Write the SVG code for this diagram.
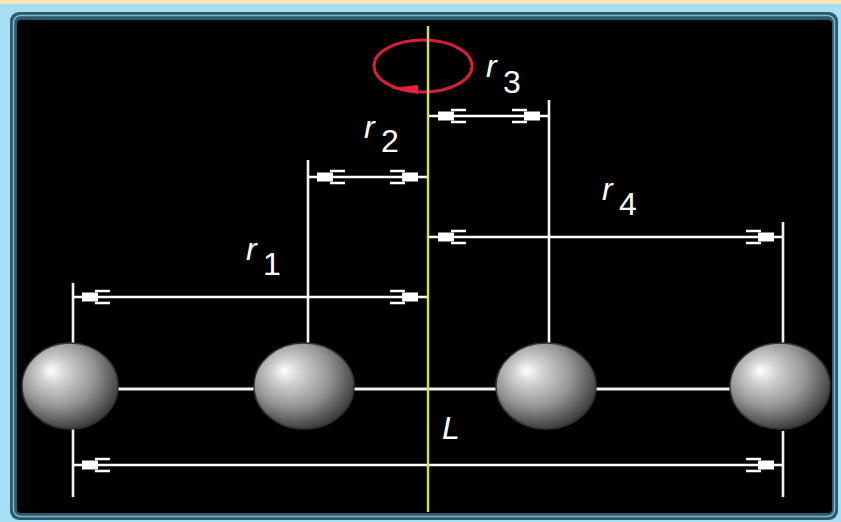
<svg xmlns="http://www.w3.org/2000/svg" width="841" height="522" viewBox="0 0 841 522">
  <defs>
    <style>
      .dim { stroke: #ffffff; stroke-width: 2.6; fill: none; }
      .ext { stroke: #f2f2f2; stroke-width: 2.6; fill: none; }
      .rod { stroke: #f0f0f0; stroke-width: 3; fill: none; }
      .lbl { font-family: "Liberation Sans", Arial, sans-serif; font-size: 32px; fill: #ffffff; }
      .var { font-style: italic; }
      .ball { fill: url(#sphere); stroke: #333333; stroke-width: 1.5; }
    </style>
    <radialGradient id="sphere" cx="0.42" cy="0.38" r="0.64" fx="0.3" fy="0.32">
      <stop offset="0" stop-color="#ffffff"/>
      <stop offset="0.22" stop-color="#d2d2d2"/>
      <stop offset="0.6" stop-color="#959595"/>
      <stop offset="1" stop-color="#383838"/>
    </radialGradient>
    <!-- dimension tip: solid block plus a forked tail, tip at the origin -->
    <marker id="tip" markerUnits="userSpaceOnUse" viewBox="-40 -8 42 16" refX="0" refY="0"
            markerWidth="42" markerHeight="16" orient="auto-start-reverse" overflow="visible">
      <rect x="-25" y="-4.5" width="16" height="9" fill="#ffffff"/>
      <path d="M-37,-6 H-22 M-37,6 H-22" stroke="#ffffff" stroke-width="2.6" fill="none"/>
    </marker>
  </defs>

  <!-- page background -->
  <rect x="0" y="0" width="841" height="522" fill="#a8def3"/>
  <rect x="0" y="0" width="841" height="4" fill="#f4e6b6"/>

  <!-- framed black panel -->
  <rect x="10" y="12" width="828" height="508" rx="9" fill="#2b5b6c"/>
  <rect x="13.5" y="15.5" width="821" height="501" rx="7" fill="none" stroke="#86b4c4" stroke-width="1.5"/>
  <rect x="17" y="20" width="815" height="493" rx="4" fill="#000000"/>

  <!-- rotation indicator -->
  <g id="rotation">
    <ellipse cx="423" cy="66" rx="49" ry="26" fill="none" stroke="#d4203a" stroke-width="3"/>
    <polygon points="390,88 418,85 418,94" fill="#e8203a"/>
  </g>

  <!-- rod joining the masses -->
  <g id="rod">
    <line class="rod" x1="70" y1="389" x2="780" y2="389"/>
  </g>

  <!-- extension lines -->
  <g id="connectors">
    <line class="ext" x1="73" y1="283" x2="73" y2="343"/>
    <line class="ext" x1="308" y1="160" x2="308" y2="343"/>
    <line class="ext" x1="549" y1="100" x2="549" y2="343"/>
    <line class="ext" x1="783" y1="222" x2="783" y2="343"/>
    <line class="ext" x1="73" y1="429" x2="73" y2="497"/>
    <line class="ext" x1="783" y1="431" x2="783" y2="497"/>

    <!-- dimension lines -->
    <line class="dim" x1="429" y1="116" x2="549" y2="116" marker-start="url(#tip)" marker-end="url(#tip)"/>
    <line class="dim" x1="308" y1="177" x2="427" y2="177" marker-start="url(#tip)" marker-end="url(#tip)"/>
    <line class="dim" x1="429" y1="237" x2="783" y2="237" marker-start="url(#tip)" marker-end="url(#tip)"/>
    <line class="dim" x1="73" y1="297" x2="427" y2="297" marker-start="url(#tip)" marker-end="url(#tip)"/>
    <line class="dim" x1="73" y1="465" x2="783" y2="465" marker-start="url(#tip)" marker-end="url(#tip)"/>
  </g>

  <!-- point masses -->
  <g id="mass1"><ellipse class="ball" cx="70" cy="386" rx="48" ry="43"/></g>
  <g id="mass2"><ellipse class="ball" cx="304" cy="386" rx="50" ry="43"/></g>
  <g id="mass3"><ellipse class="ball" cx="546" cy="386" rx="50" ry="43"/></g>
  <g id="mass4"><ellipse class="ball" cx="780" cy="386" rx="50" ry="43"/></g>

  <!-- axis of rotation -->
  <g id="axis">
    <line x1="428" y1="26" x2="428" y2="512" stroke="#d6e04a" stroke-width="2.4"/>
  </g>

  <!-- labels -->
  <g id="labels">
    <text class="lbl" x="486" y="77"><tspan class="var">r</tspan></text>
    <text class="lbl" x="503" y="93">3</text>
    <text class="lbl" x="364" y="138"><tspan class="var">r</tspan></text>
    <text class="lbl" x="381" y="152">2</text>
    <text class="lbl" x="602" y="200"><tspan class="var">r</tspan></text>
    <text class="lbl" x="619" y="215">4</text>
    <text class="lbl" x="246" y="260"><tspan class="var">r</tspan></text>
    <text class="lbl" x="263" y="275">1</text>
    <text class="lbl var" x="442" y="439" font-size="36">L</text>
  </g>
</svg>
